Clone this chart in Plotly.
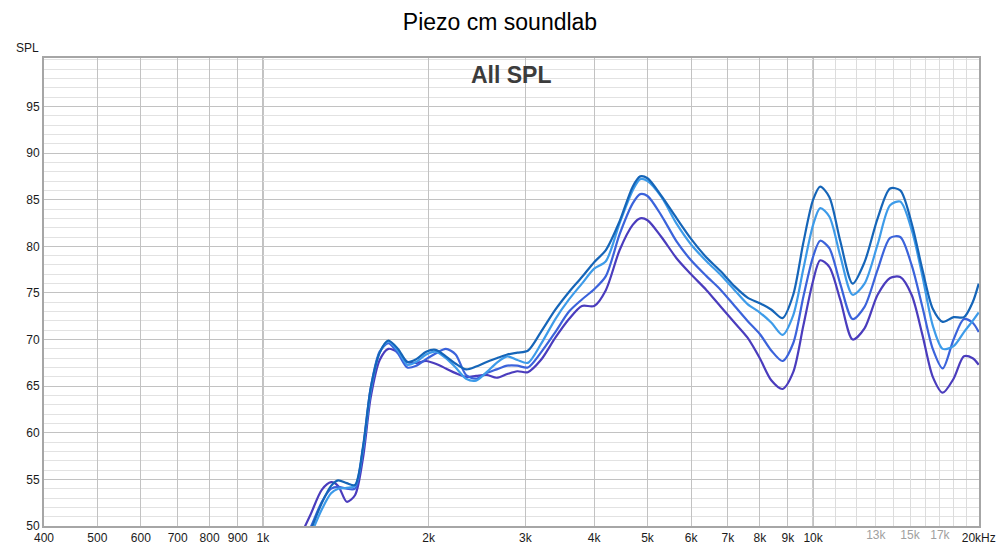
import plotly.graph_objects as go

# Frequencies (Hz) shared by the four responses
freq = [1150, 1220, 1280, 1330, 1370, 1420, 1470, 1520, 1570, 1630,
        1690, 1760, 1830, 1900, 1980, 2060, 2150, 2240, 2340, 2440,
        2550, 2660, 2780, 2900, 3030, 3200, 3400, 3600, 3800, 4000,
        4200, 4450, 4700, 4850, 5000, 5300, 5650, 6000, 6400, 6800,
        7200, 7600, 8000, 8400, 8800, 9200, 9600, 10000, 10300, 10700,
        11200, 11800, 12400, 13100, 13800, 14400, 15100, 15800, 16500, 17200,
        18000, 18800, 19500, 20000]

spl_a = [46.0, 49.5, 52.5, 54.3, 54.9, 54.6, 54.4, 58.5, 64.8, 68.6,
         69.9, 69.0, 67.6, 67.9, 68.7, 68.9, 68.2, 67.4, 66.8, 67.1,
         67.6, 68.0, 68.4, 68.6, 68.8, 70.8, 73.2, 75.1, 76.7, 78.3,
         79.6, 82.7, 86.4, 87.5, 87.3, 85.4, 83.0, 80.8, 78.8, 77.3,
         75.7, 74.5, 73.9, 73.2, 72.3, 74.8, 80.4, 85.0, 86.4, 85.3,
         80.6, 76.0, 78.3, 83.0, 86.2, 86.0, 82.5, 77.5, 73.3, 71.9,
         72.4, 72.4, 74.0, 76.0]

spl_b = [45.5, 49.0, 51.8, 53.5, 54.0, 54.1, 54.3, 58.2, 64.5, 68.6,
         69.8, 68.8, 67.3, 67.6, 68.4, 68.7, 68.0, 67.0, 65.8, 65.6,
         66.5, 67.5, 68.2, 67.8, 67.5, 69.5, 72.2, 74.3, 76.0, 77.6,
         78.4, 82.5, 86.0, 87.2, 87.0, 85.3, 82.4, 80.2, 78.4, 76.9,
         75.3, 73.8, 72.9, 71.8, 70.5, 72.6, 77.6, 82.3, 84.1, 83.2,
         79.0, 74.8, 76.0, 80.2, 84.4, 84.8, 81.8, 76.8, 71.5, 69.0,
         69.3, 70.8, 72.0, 72.9]

spl_c = [46.5, 49.8, 52.6, 54.0, 54.2, 54.0, 54.0, 58.3, 64.8, 68.7,
         69.6, 68.5, 67.0, 67.2, 67.9, 68.5, 69.0, 68.4, 66.2, 65.8,
         66.4, 66.8, 67.2, 67.2, 67.0, 68.6, 70.8, 73.0, 74.3, 75.4,
         76.8, 81.3, 84.6, 85.6, 85.4, 83.3, 80.5, 78.5, 76.8, 75.3,
         73.6, 72.0, 70.6, 68.8, 67.7, 69.6, 74.6, 78.9, 80.6, 79.8,
         76.0, 72.2, 73.5, 77.5, 80.9, 81.0, 78.0, 73.5, 69.0, 66.9,
         70.0, 72.2, 71.8, 70.8]

spl_d = [48.0, 51.2, 53.9, 54.7, 54.3, 52.6, 53.3, 57.3, 63.8, 67.8,
         69.0, 68.6, 67.6, 67.5, 67.7, 67.4, 66.9, 66.4, 66.0, 66.1,
         66.2, 65.9, 66.3, 66.6, 66.5, 67.8, 70.2, 72.2, 73.6, 73.6,
         75.3, 79.6, 82.3, 83.0, 82.8, 81.0, 78.7, 77.0, 75.3, 73.5,
         71.8, 70.2, 68.0, 65.6, 64.7, 66.5, 71.5, 76.3, 78.5, 77.8,
         74.3, 70.0, 71.2, 74.8, 76.6, 76.7, 74.8, 70.5, 66.0, 64.3,
         65.8, 68.2, 68.0, 67.3]

series = [("D", spl_d, "#4a3cbd"), ("C", spl_c, "#3b63db"),
          ("B", spl_b, "#3d9be9"), ("A", spl_a, "#1565b8")]

x_tickvals = [400, 500, 600, 700, 800, 900, 1000, 2000, 3000, 4000, 5000,
              6000, 7000, 8000, 9000, 10000, 20000]
x_ticktext = ["400", "500", "600", "700", "800", "900", "1k", "2k", "3k", "4k",
              "5k", "6k", "7k", "8k", "9k", "10k", "20kHz"]
hi_tickvals = [13000, 15000, 17000]
hi_ticktext = ["13k", "15k", "17k"]
hi_minor = [11000, 12000, 14000, 16000, 18000, 19000]
y_tickvals = [50, 55, 60, 65, 70, 75, 80, 85, 90, 95]

FONT = "Liberation Sans, Arial, sans-serif"
xr = [2.60206, 4.3015]

fig = go.Figure()
for name, vals, col in series:
    fig.add_trace(go.Scatter(x=freq, y=vals, mode="lines", name=name,
                             line=dict(color=col, width=2.2, shape="spline", smoothing=0.8),
                             showlegend=False, hoverinfo="skip"))
fig.add_trace(go.Scatter(x=[None], y=[None], xaxis="x2", showlegend=False, hoverinfo="skip"))

for v in [1000, 10000]:
    fig.add_shape(type="line", xref="x", yref="paper", x0=v, x1=v, y0=0, y1=1,
                  line=dict(color="#7a7a7a", width=1), layer="below")

fig.update_layout(
    width=1000, height=551,
    margin=dict(l=44, r=21, t=58, b=25, autoexpand=False),
    paper_bgcolor="white", plot_bgcolor="white",
    font=dict(family=FONT, color="#1a1a1a", size=12),
    title=dict(text="Piezo cm soundlab", x=0.5, xref="container", xanchor="center",
               y=1 - 22 / 551, yref="container", yanchor="middle", automargin=False,
               font=dict(size=23, color="black", family=FONT)),
    xaxis=dict(type="log", range=xr, tickvals=x_tickvals, ticktext=x_ticktext,
               showgrid=True, gridcolor="#c2c2c2", gridwidth=1, automargin=False,
               showline=True, linecolor="#a6a6a6", linewidth=2, mirror=True,
               ticks="", tickfont=dict(size=12, color="#1a1a1a"), zeroline=False),
    xaxis2=dict(type="log", range=xr, overlaying="x", anchor="y", side="bottom",
                tickvals=hi_tickvals, ticktext=hi_ticktext, automargin=False,
                showgrid=True, gridcolor="#dcdcdc", ticks="",
                tickfont=dict(size=12, color="#a0a0a0"),
                minor=dict(tickvals=hi_minor, showgrid=True, gridcolor="#dcdcdc", ticks=""),
                showline=False, zeroline=False),
    yaxis=dict(range=[50, 100.2], tickvals=y_tickvals, automargin=False,
               showgrid=True, gridcolor="#c2c2c2", gridwidth=1,
               minor=dict(dtick=1, showgrid=True, gridcolor="#e2e2e2", ticks=""),
               showline=True, linecolor="#a6a6a6", linewidth=2, mirror=True,
               ticks="", tickfont=dict(size=12, color="#1a1a1a"), zeroline=False),
    annotations=[
        dict(text="<b>All SPL</b>", xref="paper", yref="paper", x=0.5, y=0.964,
             showarrow=False, font=dict(size=23, color="#3c3c3c", family=FONT),
             xanchor="center", yanchor="middle"),
        dict(text="SPL", xref="paper", yref="paper", x=-0.018, y=1.021,
             showarrow=False, font=dict(size=12, color="#1a1a1a", family=FONT),
             xanchor="center", yanchor="middle"),
    ],
)

fig.write_html("out.html", config={"displayModeBar": False},
               post_script="document.body.style.margin='0';")
